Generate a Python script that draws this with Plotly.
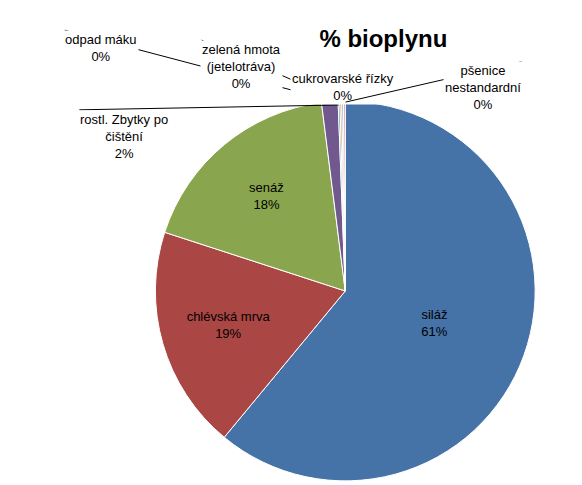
import plotly.graph_objects as go

labels = ["siláž", "chlévská mrva", "senáž", "rostl. Zbytky po čištění",
          "odpad máku", "zelená hmota (jetelotráva)", "cukrovarské řízky",
          "pšenice nestandardní"]
values = [61.0, 19.0, 18.0, 1.4, 0.15, 0.15, 0.15, 0.15]
colors = ["#4572A7", "#AA4643", "#89A54E", "#71588F",
          "#4198AF", "#DB843D", "#93A9CF", "#D19392"]
texts = ["siláž<br>61%", "chlévská mrva<br>19%", "senáž<br>18%", "", "", "", "", ""]

W, H = 582, 485

fig = go.Figure(go.Pie(
    labels=labels, values=values, sort=False, direction="clockwise", rotation=0,
    marker=dict(colors=colors, line=dict(color="white", width=1)),
    text=texts, textinfo="text", textposition="inside", insidetextorientation="horizontal",
    textfont=dict(family="Liberation Sans, Arial", size=13, color="black"),
    domain=dict(x=[0.253, 0.906], y=[0.025, 0.808]),
    showlegend=False, hoverinfo="label+percent",
))

# outside labels for the small slices: text, text x/y, line end x/y (paper)
outside = [
    ("rostl. Zbytky po<br>čištění<br>2%", 0.12, 0.79, 0.568, 0.800),
    ("odpad máku<br>0%", 0.095, 0.955, 0.572, 0.804),
    ("zelená hmota<br>(jetelotráva)<br>0%", 0.33, 0.935, 0.575, 0.806),
    ("cukrovarské řízky<br>0%", 0.575, 0.875, 0.578, 0.806),
    ("pšenice<br>nestandardní<br>0%", 0.885, 0.89, 0.580, 0.806),
]
for txt, tx, ty, px, py in outside:
    dx = (tx - px) * W
    dy = -(ty - py) * H
    fig.add_annotation(x=px, y=py, xref="paper", yref="paper", text="", showarrow=True,
                       ax=dx, ay=dy, arrowhead=0, arrowwidth=1, arrowcolor="black")
    fig.add_annotation(x=tx, y=ty, xref="paper", yref="paper", text=txt, showarrow=False,
                       font=dict(family="Liberation Sans, Arial", size=13, color="black"),
                       bgcolor="white", align="center")

fig.update_layout(
    width=W, height=H, margin=dict(l=0, r=0, t=0, b=0),
    paper_bgcolor="white",
    title=dict(text="<b>% bioplynu</b>", x=0.645, y=0.955, xanchor="center",
               font=dict(family="Liberation Sans, Arial", size=24, color="black")),
)
fig.write_html("out.html")
